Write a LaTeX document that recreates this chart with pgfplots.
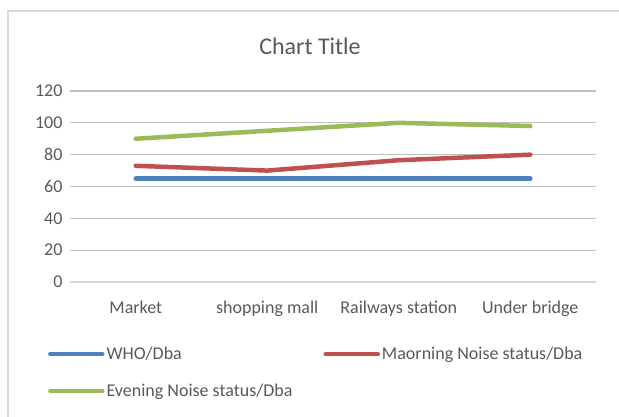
\documentclass[border=0pt]{standalone}
\usepackage{fontspec}
\setmainfont{Carlito}
\usepackage{pgfplots}
\pgfplotsset{compat=1.18}
\definecolor{txt}{HTML}{595959}
\definecolor{grid}{HTML}{D9D9D9}
\definecolor{sblue}{HTML}{4F81BD}
\definecolor{sred}{HTML}{C0504D}
\definecolor{sgreen}{HTML}{9BBB59}
\begin{document}
\begin{tikzpicture}
\path[use as bounding box] (0bp,0bp) rectangle (619bp,417bp);
\draw[grid, line width=1.2bp] (8bp,-5bp) -- (8bp,406bp) -- (630bp,406bp);
\node[text=txt, font=\fontsize{24bp}{28bp}\selectfont] at (310bp,371bp) {Chart Title};
\begin{axis}[
  at={(70bp,135bp)}, anchor=south west,
  scale only axis, width=526bp, height=191bp,
  xmin=-0.5, xmax=3.5, ymin=0, ymax=120,
  xtick={0,1,2,3},
  xticklabels={Market, shopping mall, Railways station, Under bridge},
  ytick={0,20,40,60,80,100,120},
  xmajorgrids=false, ymajorgrids=true,
  grid style={grid, line width=1.2bp},
  axis x line*=bottom, axis y line*=left,
  x axis line style={grid, line width=1.2bp, -},
  y axis line style={draw=none},
  major tick length=0pt,
  tick label style={text=txt, font=\fontsize{18bp}{21bp}\selectfont},
  /pgf/number format/assume math mode=true,
  yticklabel style={xshift=-4bp},
  xticklabel style={yshift=-15bp},
  clip=false,
  legend columns=2,
  legend style={at={(-0.042,-0.33)}, anchor=north west, draw=none, fill=none,
    text=txt, font=\fontsize{18bp}{21bp}\selectfont,
    /tikz/every even column/.append style={column sep=29bp},
    row sep=19bp, inner sep=0pt},
  legend cell align=left,
  legend image code/.code={\draw[line width=4.5bp, line cap=round] (0bp,0bp) -- (52bp,0bp);},
  every axis plot/.append style={line width=4.5bp, line cap=round, line join=round, mark=none},
]
\addplot[sblue] coordinates {(0,65) (1,65) (2,65) (3,65)};
\addlegendentry{WHO/Dba}
\addplot[sred] coordinates {(0,73) (1,70) (2,76.5) (3,80)};
\addlegendentry{Maorning Noise status/Dba}
\addplot[sgreen] coordinates {(0,90) (1,95) (2,100) (3,98)};
\addlegendentry{Evening Noise status/Dba}
\end{axis}
\end{tikzpicture}
\end{document}
